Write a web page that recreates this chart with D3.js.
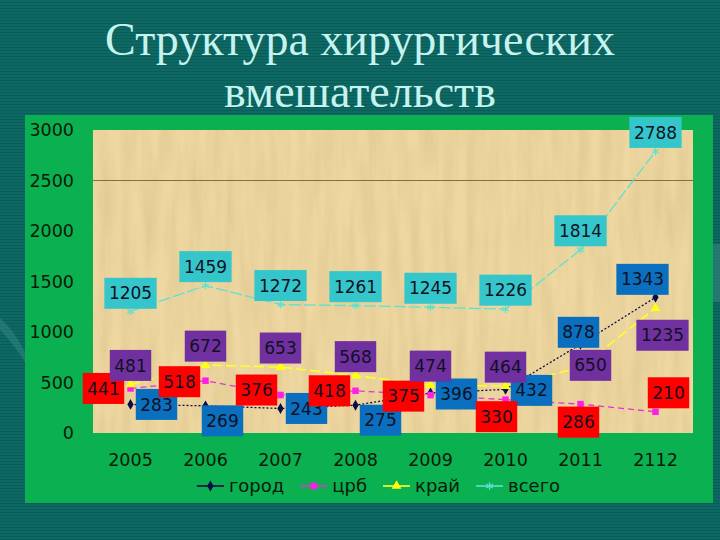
<!DOCTYPE html>
<html>
<head>
<meta charset="utf-8">
<script src="https://cdn.jsdelivr.net/npm/d3@7"></script>
<style>
  html, body { margin: 0; padding: 0; background: #0d6661; }
  svg { display: block; }
</style>
</head>
<body>
<svg id="chart" width="720" height="540"></svg>
<script>
// ---- data ----
const years = ['2005', '2006', '2007', '2008', '2009', '2010', '2011', '2112'];
const gorod = [283, 269, 243, 275, 396, 432, 878, 1343];
const crb   = [441, 518, 376, 418, 375, 330, 286, 210];
const krai  = [481, 672, 653, 568, 474, 464, 650, 1235];
const vsego = [1205, 1459, 1272, 1261, 1245, 1226, 1814, 2788];
const yTicks = [0, 500, 1000, 1500, 2000, 2500, 3000];
const seriesNames = ['город', 'црб', 'край', 'всего'];
const titleLines = ['Структура хирургических', 'вмешательств'];

// ---- layout (label box offsets relative to the point, in px) ----
const labelOffsets = [
  [[26,0],[17,15],[26,0],[25,15],[26,1],[26,1],[-2,-12],[-13,-18]],
  [[-27,0],[-26,1],[-24,-5],[-26,0],[-27,1],[-9,17],[-2,18],[13,-19]],
  [[0,-19],[0,-19],[0,-19],[0,-19],[0,-19],[0,-19],[10,-2],[7,27]],
  [[0,-18],[0,-19],[0,-19],[0,-19],[0,-19],[0,-19],[0,-19],[0,-19]]
];

const series = [
  { name: seriesNames[0], values: gorod, line: '#0c0c48', dash: '2,2', width: 1.3,
    marker: d3.symbolDiamond, msize: 34, mfill: '#0c0c48', mstroke: 'none', box: '#0a6fbf' },
  { name: seriesNames[1], values: crb, line: '#e234cf', dash: '6,4', width: 1.3,
    marker: d3.symbolSquare, msize: 42, mfill: '#ff1ee8', mstroke: 'none', box: '#ff0000' },
  { name: seriesNames[2], values: krai, line: '#ffff2a', dash: '10,4', width: 1.6,
    marker: d3.symbolTriangle, msize: 42, mfill: '#ffff10', mstroke: 'none', box: '#7030a0' },
  { name: seriesNames[3], values: vsego, line: '#5fe0d2', dash: '12,3', width: 1.3,
    marker: d3.symbolAsterisk, msize: 40, mfill: 'none', mstroke: '#5fe0d2', box: '#35c6cc' }
];

const svg = d3.select('#chart');
const defs = svg.append('defs');

// slide background stripes
const stripe = defs.append('pattern').attr('id', 'stripes')
  .attr('patternUnits', 'userSpaceOnUse').attr('width', 4).attr('height', 3);
stripe.append('rect').attr('width', 4).attr('height', 3).attr('fill', '#0e6863');
stripe.append('rect').attr('y', 2).attr('width', 4).attr('height', 1).attr('fill', '#0a5c58');

// papyrus texture filter
const f = defs.append('filter').attr('id', 'papyrus')
  .attr('x', 0).attr('y', 0).attr('width', '100%').attr('height', '100%');
f.append('feTurbulence').attr('type', 'fractalNoise')
  .attr('baseFrequency', '0.09 0.012').attr('numOctaves', 3).attr('seed', 4).attr('result', 'noise');
f.append('feColorMatrix').attr('in', 'noise').attr('type', 'matrix')
  .attr('values', '0 0 0 0 0.55  0 0 0 0 0.42  0 0 0 0 0.18  0 0 0 0.9 -0.28').attr('result', 'tint');
f.append('feComposite').attr('in', 'tint').attr('in2', 'SourceGraphic').attr('operator', 'in');

svg.append('rect').attr('width', 720).attr('height', 540).attr('fill', 'url(#stripes)');
// faint decorative swooshes
svg.append('path').attr('d', 'M0,318 Q14,330 25,352 L25,362 Q12,342 0,330 Z')
  .attr('fill', '#3c8c88').attr('opacity', 0.45);
svg.append('rect').attr('x', 713).attr('y', 244).attr('width', 7).attr('height', 58)
  .attr('fill', '#2f7f7b').attr('opacity', 0.7);

// title
const title = svg.append('g').attr('font-family', '"Liberation Serif", "Times New Roman", serif')
  .attr('font-size', 46).attr('fill', '#c6f3ef').attr('text-anchor', 'middle');
title.append('text').attr('x', 360).attr('y', 55).text(titleLines[0]);
title.append('text').attr('x', 360).attr('y', 107).text(titleLines[1]);

// green chart panel
svg.append('rect').attr('x', 25).attr('y', 115).attr('width', 688).attr('height', 388).attr('fill', '#0bb050');

const plot = { left: 93, top: 130, right: 693, bottom: 433 };
svg.append('rect').attr('x', plot.left).attr('y', plot.top)
  .attr('width', plot.right - plot.left).attr('height', plot.bottom - plot.top).attr('fill', '#eed7a0');
svg.append('rect').attr('x', plot.left).attr('y', plot.top)
  .attr('width', plot.right - plot.left).attr('height', plot.bottom - plot.top)
  .attr('fill', '#000').attr('filter', 'url(#papyrus)').attr('opacity', 0.55);

const x = d3.scaleBand().domain(years).range([plot.left, plot.right]);
const cx = d => x(d) + x.bandwidth() / 2;
const y = d3.scaleLinear().domain([0, 3000]).range([plot.bottom, plot.top]);

// single gridline at 2500
svg.append('line').attr('x1', plot.left).attr('x2', plot.right)
  .attr('y1', y(2500)).attr('y2', y(2500)).attr('stroke', '#8d6b3c').attr('stroke-width', 1);

// axes
const yAxis = svg.append('g').attr('transform', `translate(${plot.left},0)`)
  .call(d3.axisLeft(y).tickValues(yTicks).tickSize(0).tickPadding(19).tickFormat(d3.format('d')));
yAxis.select('.domain').remove();
yAxis.selectAll('text').attr('font-family', '"DejaVu Sans", Verdana, sans-serif')
  .attr('font-size', 17.5).attr('fill', '#0a1a0a');

const xAxis = svg.append('g').attr('transform', `translate(0,${plot.bottom})`)
  .call(d3.axisBottom(x).tickSize(0).tickPadding(21));
xAxis.select('.domain').remove();
xAxis.selectAll('text').attr('font-family', '"DejaVu Sans", Verdana, sans-serif')
  .attr('font-size', 17.5).attr('fill', '#0a1a0a');

// lines and markers
const lineGen = d3.line().x((d, i) => cx(years[i])).y(d => y(d));
series.forEach(s => {
  svg.append('path').datum(s.values).attr('d', lineGen)
    .attr('fill', 'none').attr('stroke', s.line).attr('stroke-width', s.width)
    .attr('stroke-dasharray', s.dash);
  svg.append('g').selectAll('path').data(s.values).join('path')
    .attr('transform', (d, i) => `translate(${cx(years[i])},${y(d)})`)
    .attr('d', d3.symbol().type(s.marker).size(s.msize))
    .attr('fill', s.mfill).attr('stroke', s.mstroke).attr('stroke-width', 1.2);
});

// data labels
const fontLbl = '"DejaVu Sans", Verdana, sans-serif';
series.forEach((s, si) => {
  const g = svg.append('g');
  s.values.forEach((v, i) => {
    const [dx, dy] = labelOffsets[si][i];
    const px = cx(years[i]) + dx, py = y(v) + dy;
    const lg = g.append('g').attr('transform', `translate(${px},${py})`);
    const r = lg.append('rect').attr('fill', s.box);
    const t = lg.append('text').attr('text-anchor', 'middle').attr('dy', '0.36em')
      .attr('font-family', fontLbl).attr('font-size', 17).attr('fill', '#111122').text(v);
    const w = t.node().getComputedTextLength() + 9, h = 31;
    r.attr('x', -w / 2).attr('y', -h / 2).attr('width', w).attr('height', h);
  });
});

// legend
const leg = svg.append('g');
let lx = 0;
series.forEach(s => {
  const it = leg.append('g').attr('transform', `translate(${lx},0)`);
  it.append('line').attr('x1', 0).attr('x2', 27).attr('stroke', s.line).attr('stroke-width', 1.6);
  it.append('path').attr('transform', 'translate(13.5,0)')
    .attr('d', d3.symbol().type(s.marker).size(s.msize))
    .attr('fill', s.mfill).attr('stroke', s.mstroke).attr('stroke-width', 1.2);
  const t = it.append('text').attr('x', 32).attr('dy', '0.32em')
    .attr('font-family', fontLbl).attr('font-size', 18).attr('fill', '#0a1a0a').text(s.name);
  lx += 32 + t.node().getComputedTextLength() + 16;
});
const legW = lx - 16;
leg.attr('transform', `translate(${378.5 - legW / 2},486)`);
</script>
</body>
</html>
